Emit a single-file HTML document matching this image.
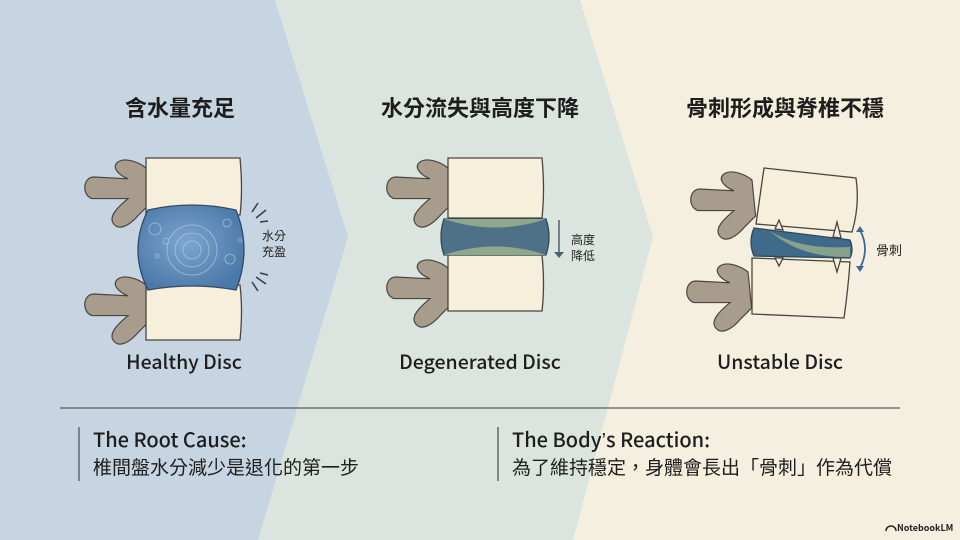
<!DOCTYPE html>
<html><head><meta charset="utf-8"><style>
html,body{margin:0;padding:0;width:960px;height:540px;overflow:hidden}
svg text{font-family:"Noto Sans CJK TC","Liberation Sans",sans-serif}
</style></head><body>
<svg width="960" height="540" viewBox="0 0 960 540" xmlns="http://www.w3.org/2000/svg">
<defs>
<radialGradient id="hd" cx="0.45" cy="0.45" r="0.6"><stop offset="0" stop-color="#7ea6cf"/><stop offset="1" stop-color="#4a78a8"/></radialGradient>
<g id="proc">
<path d="M0,0 C-10,-8 -25,-12 -32,-6 C-38,0 -30,8 -20,12 L-58,10 C-70,10 -72,30 -60,34 L-20,34 C-32,44 -42,54 -36,62 C-30,70 -18,64 -8,52 L4,40 Z" fill="#a89c8c" stroke="#4a4440" stroke-width="1.3"/>
</g>
</defs>
<rect width="960" height="540" fill="#f5efdf"/>
<polygon points="0,0 580,0 653,237 573,540 0,540" fill="#dbe4df"/>
<polygon points="0,0 275,0 348,237 258,540 0,540" fill="#c7d5e2"/>

<g font-weight="bold" font-size="22" fill="#1d1d1d" text-anchor="middle">
<text x="180" y="116">含水量充足</text>
<text x="480" y="116">水分流失與高度下降</text>
<text x="785" y="116">骨刺形成與脊椎不穩</text>
</g>
<g font-size="19.5" font-weight="500" fill="#1d1d1d" text-anchor="middle">
<text x="184" y="369">Healthy Disc</text>
<text x="480" y="369">Degenerated Disc</text>
<text x="780" y="369">Unstable Disc</text>
</g>

<!-- Healthy -->
<g stroke="#4a4440" stroke-width="1.3">
<use href="#proc" transform="translate(146,168) scale(0.9)"/>
<use href="#proc" transform="translate(146,285) scale(0.9)"/>
<path d="M146,158 L240,158 Q243,190 240,215 L146,215 Z" fill="#f5efdc"/>
<path d="M146,285 L240,285 Q243,310 240,340 L146,340 Z" fill="#f5efdc"/>
<path d="M148,210 Q192,200 236,210 Q252,250 236,290 Q192,282 148,290 Q128,250 148,210 Z" fill="url(#hd)" stroke="#2e4a6a"/>
</g>
<g fill="none" stroke="#bcd4ea" stroke-width="0.8" opacity="0.7">
<circle cx="192" cy="250" r="25"/><circle cx="192" cy="250" r="17"/><circle cx="192" cy="250" r="9"/>
<circle cx="155" cy="229" r="6"/><circle cx="230" cy="259" r="5"/><circle cx="227" cy="223" r="4"/><circle cx="166" cy="241" r="3"/><circle cx="157" cy="256" r="2"/><circle cx="240" cy="240" r="2"/>
</g>
<g stroke="#2e3e50" stroke-width="1.5">
<line x1="252" y1="212" x2="258" y2="203"/><line x1="256" y1="218" x2="266" y2="210"/><line x1="260" y1="222" x2="268" y2="221"/>
<line x1="252" y1="282" x2="258" y2="291"/><line x1="256" y1="277" x2="266" y2="284"/><line x1="260" y1="273" x2="268" y2="275"/>
</g>
<text x="262" y="240" font-size="12" fill="#222">水分</text>
<text x="262" y="256" font-size="12" fill="#222">充盈</text>

<!-- Degenerated -->
<g stroke="#4a4440" stroke-width="1.3">
<use href="#proc" transform="translate(448,168) scale(0.9)"/>
<use href="#proc" transform="translate(448,268) scale(0.9)"/>
<path d="M448,158 L542,158 Q545,190 542,218 L448,218 Z" fill="#f5efdc"/>
<path d="M448,255 L542,255 Q545,285 542,311 L448,311 Z" fill="#f5efdc"/>
<path d="M444,219 L546,219 Q552,237 546,255 L444,255 Q438,237 444,219 Z" fill="#4f7187" stroke="#2e4a5a"/>
<path d="M444,219 L546,219 Q495,236 444,219 Z M444,255 L546,255 Q495,238 444,255 Z" fill="#8fa88c" stroke="none"/>
</g>
<line x1="559" y1="220" x2="559" y2="256" stroke="#4e6070" stroke-width="1.5"/>
<path d="M554,252 L559,258 L564,252 Z" fill="#4e6070"/>
<text x="571" y="244" font-size="12" fill="#222">高度</text>
<text x="571" y="260" font-size="12" fill="#222">降低</text>

<!-- Unstable -->
<g stroke="#4a4440" stroke-width="1.3">
<use href="#proc" transform="translate(752,180) scale(0.9)"/>
<use href="#proc" transform="translate(748,272) scale(0.9)"/>
<path d="M764,168 L856,178 Q860,205 852,232 L756,224 Z" fill="#f5efdc"/>
<path d="M752,258 L850,262 Q848,290 844,318 L752,314 Z" fill="#f5efdc"/>
<path d="M754,228 L850,240 Q854,250 850,258 L754,256 Q748,242 754,228 Z" fill="#3f6a8a" stroke="#2e4a5a"/>
<path d="M770,231 Q800,250 850,247 L850,257 Q800,258 770,231 Z" fill="#86a28c" stroke="none"/>
<path d="M775,229 L779,220 L783,230 Z M833,237 L837,222 L841,238 Z M775,258 L779,266 L783,258 Z M833,258 L837,272 L841,258 Z" fill="#f5efdc"/>
</g>
<path d="M860,230 Q870,249 860,268" fill="none" stroke="#3d6a94" stroke-width="1.8"/>
<path d="M856,232 L860,226 L864,232 Z M856,266 L860,272 L864,266 Z" fill="#3d6a94"/>
<text x="876" y="255" font-size="13" fill="#222">骨刺</text>

<line x1="60" y1="408" x2="900" y2="408" stroke="#3a3a3a" stroke-width="1"/>
<line x1="79" y1="427" x2="79" y2="481" stroke="#555" stroke-width="1.3"/>
<line x1="498" y1="427" x2="498" y2="481" stroke="#555" stroke-width="1.3"/>
<g font-size="20" font-weight="500" fill="#1d1d1d">
<text x="93" y="447">The Root Cause:</text>
<text x="512" y="447">The Body<tspan font-family="Liberation Sans, sans-serif">’</tspan>s Reaction:</text>
</g>
<g font-size="19" fill="#1d1d1d">
<text x="93" y="474">椎間盤水分減少是退化的第一步</text>
<text x="512" y="474">為了維持穩定，身體會長出「骨刺」作為代償</text>
</g>
<text x="897" y="531" font-size="9" font-weight="bold" fill="#222">NotebookLM</text>
<path d="M886,531 a5,5 0 0 1 10,0" fill="none" stroke="#222" stroke-width="1.5"/>
</svg>
</body></html>
